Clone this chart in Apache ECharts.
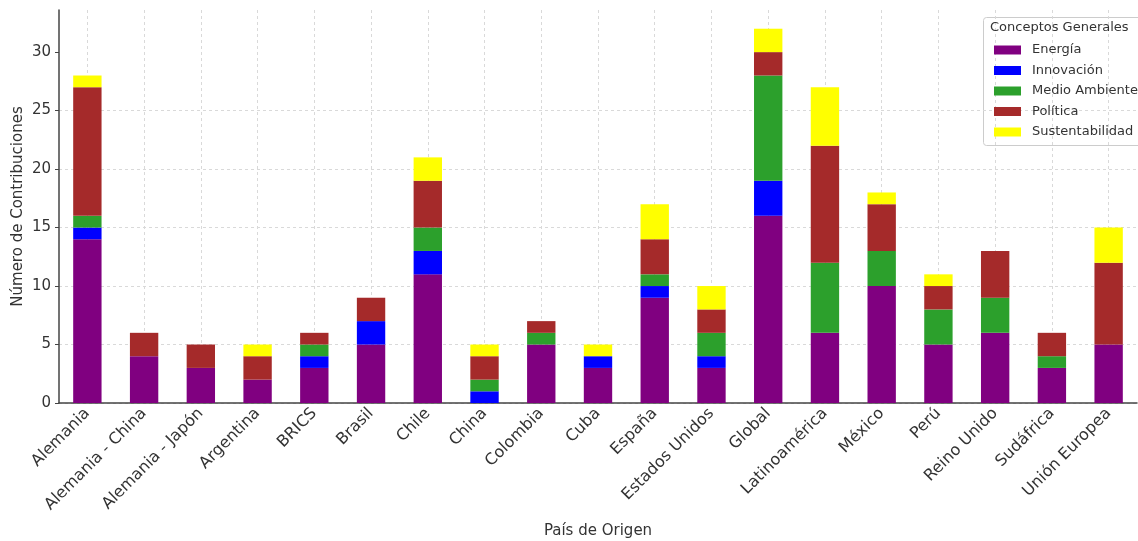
<!DOCTYPE html>
<html>
<head>
<meta charset="utf-8">
<script src="https://cdn.jsdelivr.net/npm/echarts@6/dist/echarts.min.js"></script>
<style>html,body{margin:0;padding:0;background:#fff;}#c{width:1138px;height:541px;}</style>
</head>
<body>
<div id="c"></div>
<script>
const categories = ['Alemania','Alemania - China','Alemania - Japón','Argentina','BRICS','Brasil','Chile','China','Colombia','Cuba','España','Estados Unidos','Global','Latinoamérica','México','Perú','Reino Unido','Sudáfrica','Unión Europea'];
const energia =         [14,4,3,2,3,5,11,0,5,3,9,3,16,6,10,5,6,3,5];
const innovacion =      [1,0,0,0,1,2,2,1,0,1,1,1,3,0,0,0,0,0,0];
const medioAmbiente =   [1,0,0,0,1,0,2,1,1,0,1,2,9,6,3,3,3,1,0];
const politica =        [11,2,2,2,1,2,4,2,1,0,3,2,2,10,4,2,4,2,7];
const sustentabilidad = [1,0,0,1,0,0,2,1,0,1,3,2,2,5,1,1,0,0,3];
const yTicks = [0,5,10,15,20,25,30];

const seriesDefs = [
  ['Energía', energia, '#800080'],
  ['Innovación', innovacion, '#0000ff'],
  ['Medio Ambiente', medioAmbiente, '#2ca02c'],
  ['Política', politica, '#a52a2a'],
  ['Sustentabilidad', sustentabilidad, '#ffff00']
];

const chart = echarts.init(document.getElementById('c'));
const font = 'DejaVu Sans';
chart.setOption({
  animation: false,
  textStyle: {fontFamily: font},
  grid: {left: 59, right: 1, top: 10, bottom: 138, containLabel: false, outerBoundsMode: 'none'},
  legend: {
    orient: 'vertical',
    left: 989, top: 38,
    itemWidth: 27, itemHeight: 9,
    itemGap: 6.5,
    icon: 'rect',
    textStyle: {fontFamily: font, fontSize: 13, color: '#333', lineHeight: 14, padding: [0,0,0,6]},
    data: seriesDefs.map(s => s[0])
  },
  graphic: [
    {type: 'rect', left: 983, top: 17, shape: {width: 160, height: 128, r: 3}, style: {fill: 'rgba(255,255,255,0.8)', stroke: '#cccccc', lineWidth: 1}, z: 0},
    {type: 'text', left: 990, top: 21, style: {text: 'Conceptos Generales', fontFamily: font, fontSize: 13, fill: '#333'}, z: 10}
  ],
  xAxis: {
    type: 'category',
    data: categories,
    name: 'País de Origen',
    nameLocation: 'middle',
    nameGap: 121,
    nameMoveOverlap: false,
    nameTextStyle: {fontSize: 15, color: '#333'},
    axisLine: {lineStyle: {color: '#444', width: 1.5}},
    axisTick: {alignWithLabel: true, length: 4, lineStyle: {color: '#444'}},
    axisLabel: {rotate: 45, fontSize: 16, color: '#333', interval: 0, margin: 8},
    splitLine: {show: true, alignWithLabel: true, lineStyle: {color: '#d9d9d9', type: [3,3], width: 1}}
  },
  yAxis: {
    type: 'value',
    min: 0, max: 33.6,
    interval: 5,
    name: 'Número de Contribuciones',
    nameLocation: 'middle',
    nameGap: 33,
    nameMoveOverlap: false,
    nameTextStyle: {fontSize: 15, color: '#333'},
    axisLine: {show: true, lineStyle: {color: '#444', width: 1.5}},
    axisTick: {show: true, length: 4, lineStyle: {color: '#444'}, customValues: yTicks},
    axisLabel: {fontSize: 15, color: '#333', customValues: yTicks, margin: 8},
    splitLine: {show: true, showMaxLine: false, lineStyle: {color: '#d9d9d9', type: [3,3], width: 1}}
  },
  series: seriesDefs.map(([name, data, color]) => ({
    name, type: 'bar', stack: 'total', data,
    barWidth: '50%',
    itemStyle: {color},
    z: 2
  }))
});
</script>
</body>
</html>
